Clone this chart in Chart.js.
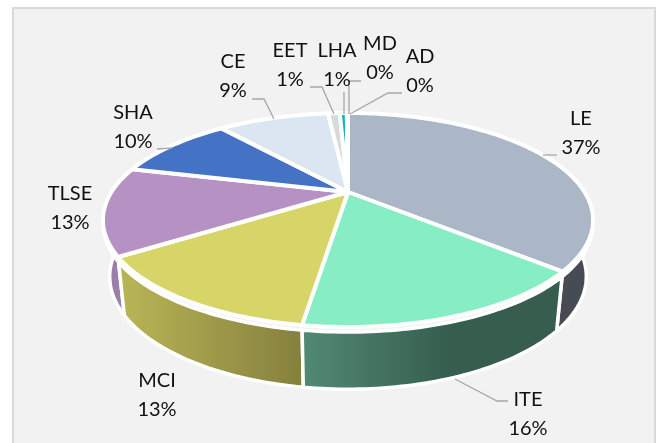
<!DOCTYPE html>
<html>
<head>
<meta charset="utf-8">
<style>
  html, body { margin: 0; background: #fff; overflow: hidden; }
  #panel { position: absolute; left: 12px; top: 7px; width: 640px; height: 440px;
    background: #f2f2f2; border: 2px solid #d9d9d9; }
  canvas { position: absolute; left: 0; top: 0; }
</style>
</head>
<body>
<div id="panel"></div>
<canvas id="chart" width="662" height="443"></canvas>
<script src="https://cdn.jsdelivr.net/npm/chart.js@4"></script>
<script>
const categories = ['LE', 'ITE', 'MCI', 'TLSE', 'SHA', 'CE', 'EET', 'LHA', 'MD', 'AD'];
const shares = [36.5, 15.8, 13.3, 13.3, 10.0, 9.4, 1.0, 0.6, 0.05, 0.05];

const topColors = ['#abb6c6', '#87edc5', '#d8d568', '#b592c3', '#4472c4', '#dce6f2', '#d9d9d9', '#13b5b1', '#8a9bb5', '#6f8fa8'];
// left and right colour of each slice's wall
const wallColors = [
  ['#474b54', '#474b54'], ['#528a74', '#365d4e'], ['#b9b656', '#857f3e'], ['#9a7fa8', '#9a7fa8'],
  ['#2f5597', '#2f5597'], ['#99a1a9', '#99a1a9'], ['#989898', '#989898'], ['#0d7f7c', '#0d7f7c'],
  ['#606c7f', '#606c7f'], ['#4e6475', '#4e6475'],
];

// label centres, first line
const labelSpots = [[581, 119], [528, 400], [157, 381], [70, 194], [133, 113], [233, 62], [290, 51], [337, 51], [380, 44], [420, 57]];
const leaders = [
  [[543, 155], [557, 155]],
  [[455, 379], [497, 401], [508, 401]],
  [],
  [],
  [[157, 149], [172, 148]],
  [[252, 99], [264, 99], [274, 119]],
  [[310, 87], [322, 87], [334, 114]],
  [[344, 92], [344, 114]],
  [[361, 81], [349, 81], [349, 114]],
  [[402, 93], [388, 93], [350, 114]],
];

// perspective of the disc: top plane, where the walls start, bottom plane
const tilt = -0.2617;
const topPlane = { x: 348, y: 192, a: 236.5, b: 99.7 };
const wallPlane = { x: 348, y: 197, a: 236, b: 99.7 };
const bottomPlane = { x: 348, y: 247, a: 230, b: 105 };

function project(plane, angle) {
  const u = Math.cos(angle);
  const v = Math.sin(angle);
  const w = 1 + tilt * v;
  return [plane.x + plane.a * u / w, plane.y + plane.b * v / w];
}

function arcPoints(plane, start, end) {
  const steps = Math.max(2, Math.ceil((end - start) / 0.02));
  const pts = [];
  for (let i = 0; i <= steps; i++) {
    pts.push(project(plane, start + (end - start) * i / steps));
  }
  return pts;
}

function tracePath(ctx, pts) {
  ctx.beginPath();
  pts.forEach((p, i) => (i ? ctx.lineTo(p[0], p[1]) : ctx.moveTo(p[0], p[1])));
  ctx.closePath();
}

const disc3d = {
  id: 'disc3d',
  beforeDatasetsDraw(chart) {
    const ctx = chart.ctx;
    const arcs = chart.getDatasetMeta(0).data;
    ctx.save();
    ctx.lineJoin = 'round';
    ctx.strokeStyle = '#fff';

    // walls, back ones first
    const order = arcs.map((a, i) => i).sort((p, q) =>
      Math.sin((arcs[p].startAngle + arcs[p].endAngle) / 2) - Math.sin((arcs[q].startAngle + arcs[q].endAngle) / 2));
    order.forEach((i) => {
      const { startAngle, endAngle } = arcs[i];
      const top = arcPoints(wallPlane, startAngle, endAngle);
      const bottom = arcPoints(bottomPlane, startAngle, endAngle).reverse();
      const xs = top.concat(bottom).map((p) => p[0]);
      const grad = ctx.createLinearGradient(Math.min(...xs), 0, i === 1 ? 450 : Math.max(...xs), 0);
      grad.addColorStop(0, wallColors[i][0]);
      grad.addColorStop(1, wallColors[i][1]);
      tracePath(ctx, top.concat(bottom));
      ctx.fillStyle = grad;
      ctx.fill();
      ctx.lineWidth = 3.5;
      ctx.stroke();
    });

    // top faces
    arcs.forEach((arc, i) => {
      const pts = [[topPlane.x, topPlane.y]].concat(arcPoints(topPlane, arc.startAngle, arc.endAngle));
      tracePath(ctx, pts);
      ctx.fillStyle = topColors[i];
      ctx.fill();
      ctx.lineWidth = 4;
      ctx.stroke();
    });
    ctx.restore();
    return false; // the flat pie is replaced by the disc above
  },
  afterDraw(chart) {
    const ctx = chart.ctx;
    ctx.save();
    ctx.strokeStyle = '#a6a6a6';
    ctx.lineWidth = 1.3;
    leaders.forEach((line) => {
      if (!line.length) return;
      ctx.beginPath();
      line.forEach((p, i) => (i ? ctx.lineTo(p[0], p[1]) : ctx.moveTo(p[0], p[1])));
      ctx.stroke();
    });
    ctx.fillStyle = '#111';
    ctx.font = '20px Lato';
    ctx.textAlign = 'center';
    ctx.textBaseline = 'middle';
    categories.forEach((name, i) => {
      const [x, y] = labelSpots[i];
      ctx.fillText(name, x, y);
      ctx.fillText(Math.round(shares[i]) + '%', x, y + 29);
    });
    ctx.restore();
  },
};

new Chart(document.getElementById('chart'), {
  type: 'pie',
  data: {
    labels: categories,
    datasets: [{ data: shares, backgroundColor: topColors, borderColor: '#fff' }],
  },
  options: {
    responsive: false,
    animation: false,
    plugins: { legend: { display: false }, tooltip: { enabled: false } },
  },
  plugins: [disc3d],
});
</script>
</body>
</html>
